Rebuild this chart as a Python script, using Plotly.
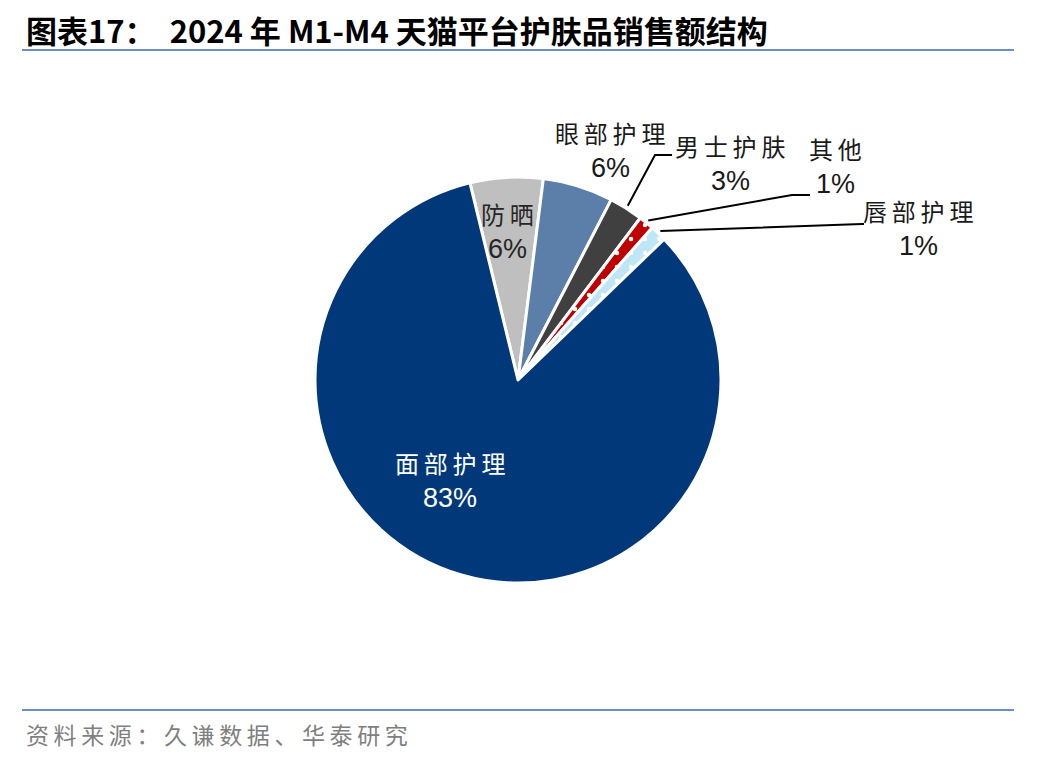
import math
import plotly.graph_objects as go

# 2024 M1-M4 天猫护肤品销售额结构
categories = ["防晒", "眼部护理", "男士护肤", "其他", "唇部护理", "面部护理"]
shares = [5.8, 5.6, 2.7, 1.2, 1.3, 83.4]
colors = ["#bfbfbf", "#5b7fa9", "#404040", "#c00000", "#bfe6f7", "#00387a"]
patterns = ["", "", "", ".", ".", ""]

W, H = 1048, 760
OFF = 8  # page body margin
CX, CY, R = 518, 380, 203
ROT = -13.7


def px(x):
    return (x - OFF) / W


def py(y):
    return 1 - (y - OFF) / H


fig = go.Figure(go.Pie(
    labels=categories, values=shares, sort=False, direction="clockwise",
    rotation=ROT, textinfo="none", hoverinfo="label+percent",
    marker=dict(colors=colors, line=dict(color="white", width=3),
                pattern=dict(shape=patterns, fgcolor="white", bgcolor=colors,
                             size=14, solidity=0.08)),
    domain=dict(x=[px(CX - R), px(CX + R)], y=[py(CY + R), py(CY - R)]),
    showlegend=False,
))

cn = "Noto Sans CJK SC, sans-serif"
num = "Liberation Sans, Arial, sans-serif"
total = sum(shares)
pct = {c: f"{round(v / total * 100)}%" for c, v in zip(categories, shares)}

# label centres (px) for each slice
label_pos = {
    "防晒": (507, 213, "#262626"),
    "面部护理": (450, 462, "white"),
    "眼部护理": (610, 132, "#1a1a1a"),
    "男士护肤": (730, 145, "#1a1a1a"),
    "其他": (835, 148, "#1a1a1a"),
    "唇部护理": (918, 210, "#1a1a1a"),
}
anns = []
for c, (x, y, col) in label_pos.items():
    anns.append(dict(x=px(x), y=py(y), xref="paper", yref="paper", text="\u2009".join(c),
                     xanchor="center", yanchor="middle", showarrow=False,
                     font=dict(family=cn, size=24, color=col)))
    anns.append(dict(x=px(x), y=py(y + 36), xref="paper", yref="paper", text=pct[c],
                     xanchor="center", yanchor="middle", showarrow=False,
                     font=dict(family=num, size=27, color=col)))

# leader lines: start at slice mid-angle on the rim
elbows = {"男士护肤": [(655, 155), (672, 155)],
          "其他": [(792, 195), (810, 195)],
          "唇部护理": [(862, 224), (864, 224)]}
shapes = []
ang = ROT
for c, v in zip(categories, shares):
    span = v / total * 360
    mid = math.radians(ang + span / 2)
    ang += span
    if c in elbows:
        sx = CX + (R + 3) * math.sin(mid)
        sy = CY - (R + 3) * math.cos(mid)
        pts = [(sx, sy)] + elbows[c]
        path = "M " + " L ".join(f"{px(a)},{py(b)}" for a, b in pts)
        shapes.append(dict(type="path", xref="paper", yref="paper", path=path,
                           line=dict(color="black", width=2)))

# header / footer rules
for y in (50, 710):
    shapes.append(dict(type="line", xref="paper", yref="paper", x0=px(22), x1=px(1014),
                       y0=py(y), y1=py(y), line=dict(color="#6b8fc6", width=2)))

anns.append(dict(x=px(24), y=py(30), xref="paper", yref="paper", xanchor="left", yanchor="middle",
                 showarrow=False,
                 text="<b>图表17：  2024 年 M1-M4 天猫平台护肤品销售额结构</b>",
                 font=dict(family="Noto Sans CJK SC, sans-serif", size=31, color="black")))
anns.append(dict(x=px(24), y=py(734), xref="paper", yref="paper", xanchor="left", yanchor="middle",
                 showarrow=False,
                 text="\u2009".join("资料来源：久谦数据、华泰研究"),
                 font=dict(family=cn, size=23, color="#7f7f7f")))

fig.update_layout(width=W, height=H, margin=dict(l=0, r=0, t=0, b=0),
                  paper_bgcolor="white", plot_bgcolor="white",
                  annotations=anns, shapes=shapes)
fig.write_html("out.html")
